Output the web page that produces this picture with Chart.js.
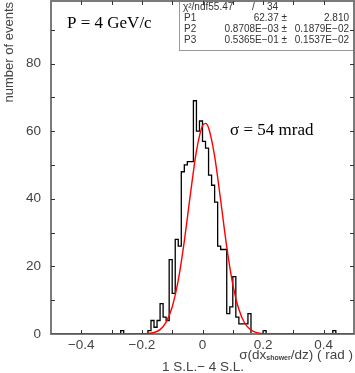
<!DOCTYPE html>
<html><head><meta charset="utf-8">
<script src="https://cdn.jsdelivr.net/npm/chart.js@4/dist/chart.umd.min.js"></script>
<style>html,body{margin:0;padding:0;background:#fff;overflow:hidden}</style>
</head><body><canvas id="c" width="355" height="373"></canvas>
<script>
// ---- data ----
const binLow = -0.5;
const binWidth = 0.01;
const counts = [
  0,0,0,0,0,0,0,0,0,0,
  0,0,0,0,0,0,0,0,0,0,
  0,0,0,0,1,0,0,0,0,0,
  0,0,0,1,4,2,4,9,5,4,
  22,12,28,26,48,50,51,51,69,60,
  63,57,55,47,44,39,26,25,25,6,
  8,17,5,3,3,3,6,0,0,0,
  0,1,0,0,0,0,0,0,0,0,
  0,0,0,0,0,0,0,0,0,0,
  0,0,0,0,1,0,0,0,0,0
];
const fitX = [-0.5,-0.22,-0.2,-0.18,-0.16,-0.14,-0.12,-0.1,-0.08,-0.06,-0.04,-0.02,0,0.01,0.02,0.04,0.06,0.08,0.1,0.12,0.14,0.16,0.18,0.2,0.22,0.5];
const fitY = [0,0,0.03,0.13,0.45,1.3,3.5,8.0,15.9,27.5,41.3,54.1,61.6,62.3,61.0,52.6,39.5,25.8,14.7,7.3,3.1,1.2,0.4,0.1,0,0];
const xTicks = [-0.4,-0.2,0,0.2,0.4];
const xTickLabels = ['\u22120.4','\u22120.2','0','0.2','0.4'];
const xTickMarks = [-0.4,-0.3,-0.2,-0.1,0,0.1,0.2,0.3,0.4];
const yTicks = [0,20,40,60,80];
const yTickLabels = ['0','20','40','60','80'];
const yTickMarks = [10,20,30,40,50,60,70,80,90];
const statLabels = ['P1','P2','P3'];
const statValues = ['62.37 \u00b1','0.8708E\u221203 \u00b1','0.5365E\u221201 \u00b1'];
const statErrors = ['2.810','0.1879E\u221202','0.1537E\u221202'];
const chiText = '55.47';
const ndfText = '34';

const SANS = '"Liberation Sans", Arial, sans-serif';
const SERIF = '"Liberation Serif", "Times New Roman", serif';

function drawFrame(chart) {
  const ctx = chart.ctx;
  const {left, right, top, bottom} = chart.chartArea;
  const xs = chart.scales.x, ys = chart.scales.y;
  ctx.save();
  // stats box
  const bx = 179, by = top - 1, bw = right - bx, bh = 50;
  ctx.fillStyle = '#fff';
  ctx.fillRect(bx, by, bw, bh);
  ctx.strokeStyle = '#999';
  ctx.lineWidth = 1;
  ctx.strokeRect(bx + 0.5, by + 0.5, bw - 1, bh);
  ctx.fillStyle = '#333';
  ctx.font = '10px ' + SANS;
  ctx.textAlign = 'left';
  ctx.textBaseline = 'alphabetic';
  ctx.fillText('\u03c7\u00b2/ndf' + chiText, 183, 10);
  ctx.fillText('/', 252, 10);
  ctx.fillText(ndfText, 267, 10);
  for (let i = 0; i < statLabels.length; i++) {
    const yb = 21 + i * 11;
    ctx.textAlign = 'left';
    ctx.fillText(statLabels[i], 184, yb);
    ctx.textAlign = 'right';
    ctx.fillText(statValues[i], 287, yb);
    ctx.fillText(statErrors[i], 349, yb);
  }
  // frame
  ctx.strokeStyle = '#7a7a7a';
  ctx.lineWidth = 2;
  ctx.strokeRect(left, top, right - left, bottom - top);
  // tick marks (inward)
  ctx.strokeStyle = '#333';
  ctx.lineWidth = 1;
  ctx.beginPath();
  xTickMarks.forEach(v => {
    const px = Math.round(xs.getPixelForValue(v)) + 0.5;
    ctx.moveTo(px, bottom); ctx.lineTo(px, bottom - 4);
    ctx.moveTo(px, top); ctx.lineTo(px, top + 4);
  });
  yTickMarks.forEach(v => {
    const py = Math.round(ys.getPixelForValue(v)) + 0.5;
    ctx.moveTo(left, py); ctx.lineTo(left + 4, py);
    ctx.moveTo(right, py); ctx.lineTo(right - 4, py);
  });
  ctx.stroke();
  ctx.restore();
}

function drawTexts(chart) {
  const ctx = chart.ctx;
  const {left, right, top, bottom} = chart.chartArea;
  ctx.save();
  // y title
  ctx.fillStyle = '#444';
  ctx.font = '13px ' + SANS;
  ctx.translate(13, 2);
  ctx.rotate(-Math.PI / 2);
  ctx.textAlign = 'right';
  ctx.textBaseline = 'alphabetic';
  ctx.fillText('number of events', 0, 0);
  ctx.restore();

  ctx.save();
  ctx.fillStyle = '#444';
  ctx.textBaseline = 'alphabetic';
  // x title with subscript, right aligned at right edge
  const main1 = '\u03c3(dx', sub = 'shower', main2 = '/dz) ( rad )';
  ctx.font = '13.5px ' + SANS;
  const w1 = ctx.measureText(main1).width, w3 = ctx.measureText(main2).width;
  ctx.font = 'bold 7px ' + SANS;
  const w2 = ctx.measureText(sub).width;
  let x0 = 353 - (w1 + w2 + w3);
  const yb = 359;
  ctx.textAlign = 'left';
  ctx.font = '13.5px ' + SANS;
  ctx.fillText(main1, x0, yb);
  ctx.font = 'bold 7px ' + SANS;
  ctx.fillText(sub, x0 + w1, yb + 1);
  ctx.font = '13.5px ' + SANS;
  ctx.fillText(main2, x0 + w1 + w2, yb);
  // second line
  ctx.textAlign = 'center';
  ctx.fillText('1 S.L.\u2212 4 S.L.', 203, 371);
  // annotations
  ctx.fillStyle = '#000';
  ctx.textAlign = 'left';
  ctx.font = '17px ' + SERIF;
  ctx.fillText('P = 4 GeV/c', 67, 28);
  ctx.fillText('\u03c3 = 54 mrad', 230, 135);
  ctx.restore();
}

const framePlugin = {
  id: 'frame',
  afterDatasetDraw(chart, args) { if (args.index === 1) drawFrame(chart); },
  afterDraw(chart) { drawTexts(chart); }
};

const histPoints = counts.map((c, i) => ({x: binLow + i * binWidth, y: c}));
histPoints.push({x: binLow + counts.length * binWidth, y: counts[counts.length - 1]});
const fitPoints = fitX.map((x, i) => ({x: x, y: fitY[i]}));

new Chart(document.getElementById('c'), {
  type: 'line',
  data: {
    datasets: [
      { data: fitPoints, borderColor: '#ff0000', borderWidth: 1.4, pointRadius: 0, fill: false, cubicInterpolationMode: 'monotone' },
      { data: histPoints, borderColor: '#000', borderWidth: 1.3, pointRadius: 0, fill: false, stepped: 'after' }
    ]
  },
  options: {
    responsive: false, animation: false, devicePixelRatio: 1, events: [],
    layout: { padding: { left: 0, right: 1, top: 1, bottom: 0 } },
    plugins: { legend: { display: false }, tooltip: { enabled: false } },
    scales: {
      x: {
        type: 'linear', min: -0.5, max: 0.5, position: 'bottom',
        afterBuildTicks: s => { s.ticks = xTicks.map(v => ({value: v})); },
        afterFit: s => { s.height = 39; s.paddingLeft = 0; s.paddingRight = 0; },
        ticks: { callback: (v, i) => xTickLabels[i], color: '#444', font: { family: SANS, size: 13.5 }, padding: 3, maxRotation: 0, autoSkip: false },
        grid: { display: false, drawTicks: false }, border: { display: false }
      },
      y: {
        type: 'linear', min: 0, max: 98.5, position: 'left',
        afterBuildTicks: s => { s.ticks = yTicks.map(v => ({value: v})); },
        afterFit: s => { s.width = 51; s.paddingTop = 0; s.paddingBottom = 0; },
        ticks: { callback: (v, i) => yTickLabels[i], color: '#444', font: { family: SANS, size: 13.5 }, padding: 10, autoSkip: false },
        grid: { display: false, drawTicks: false }, border: { display: false }
      }
    }
  },
  plugins: [framePlugin]
});
</script>
</body></html>
